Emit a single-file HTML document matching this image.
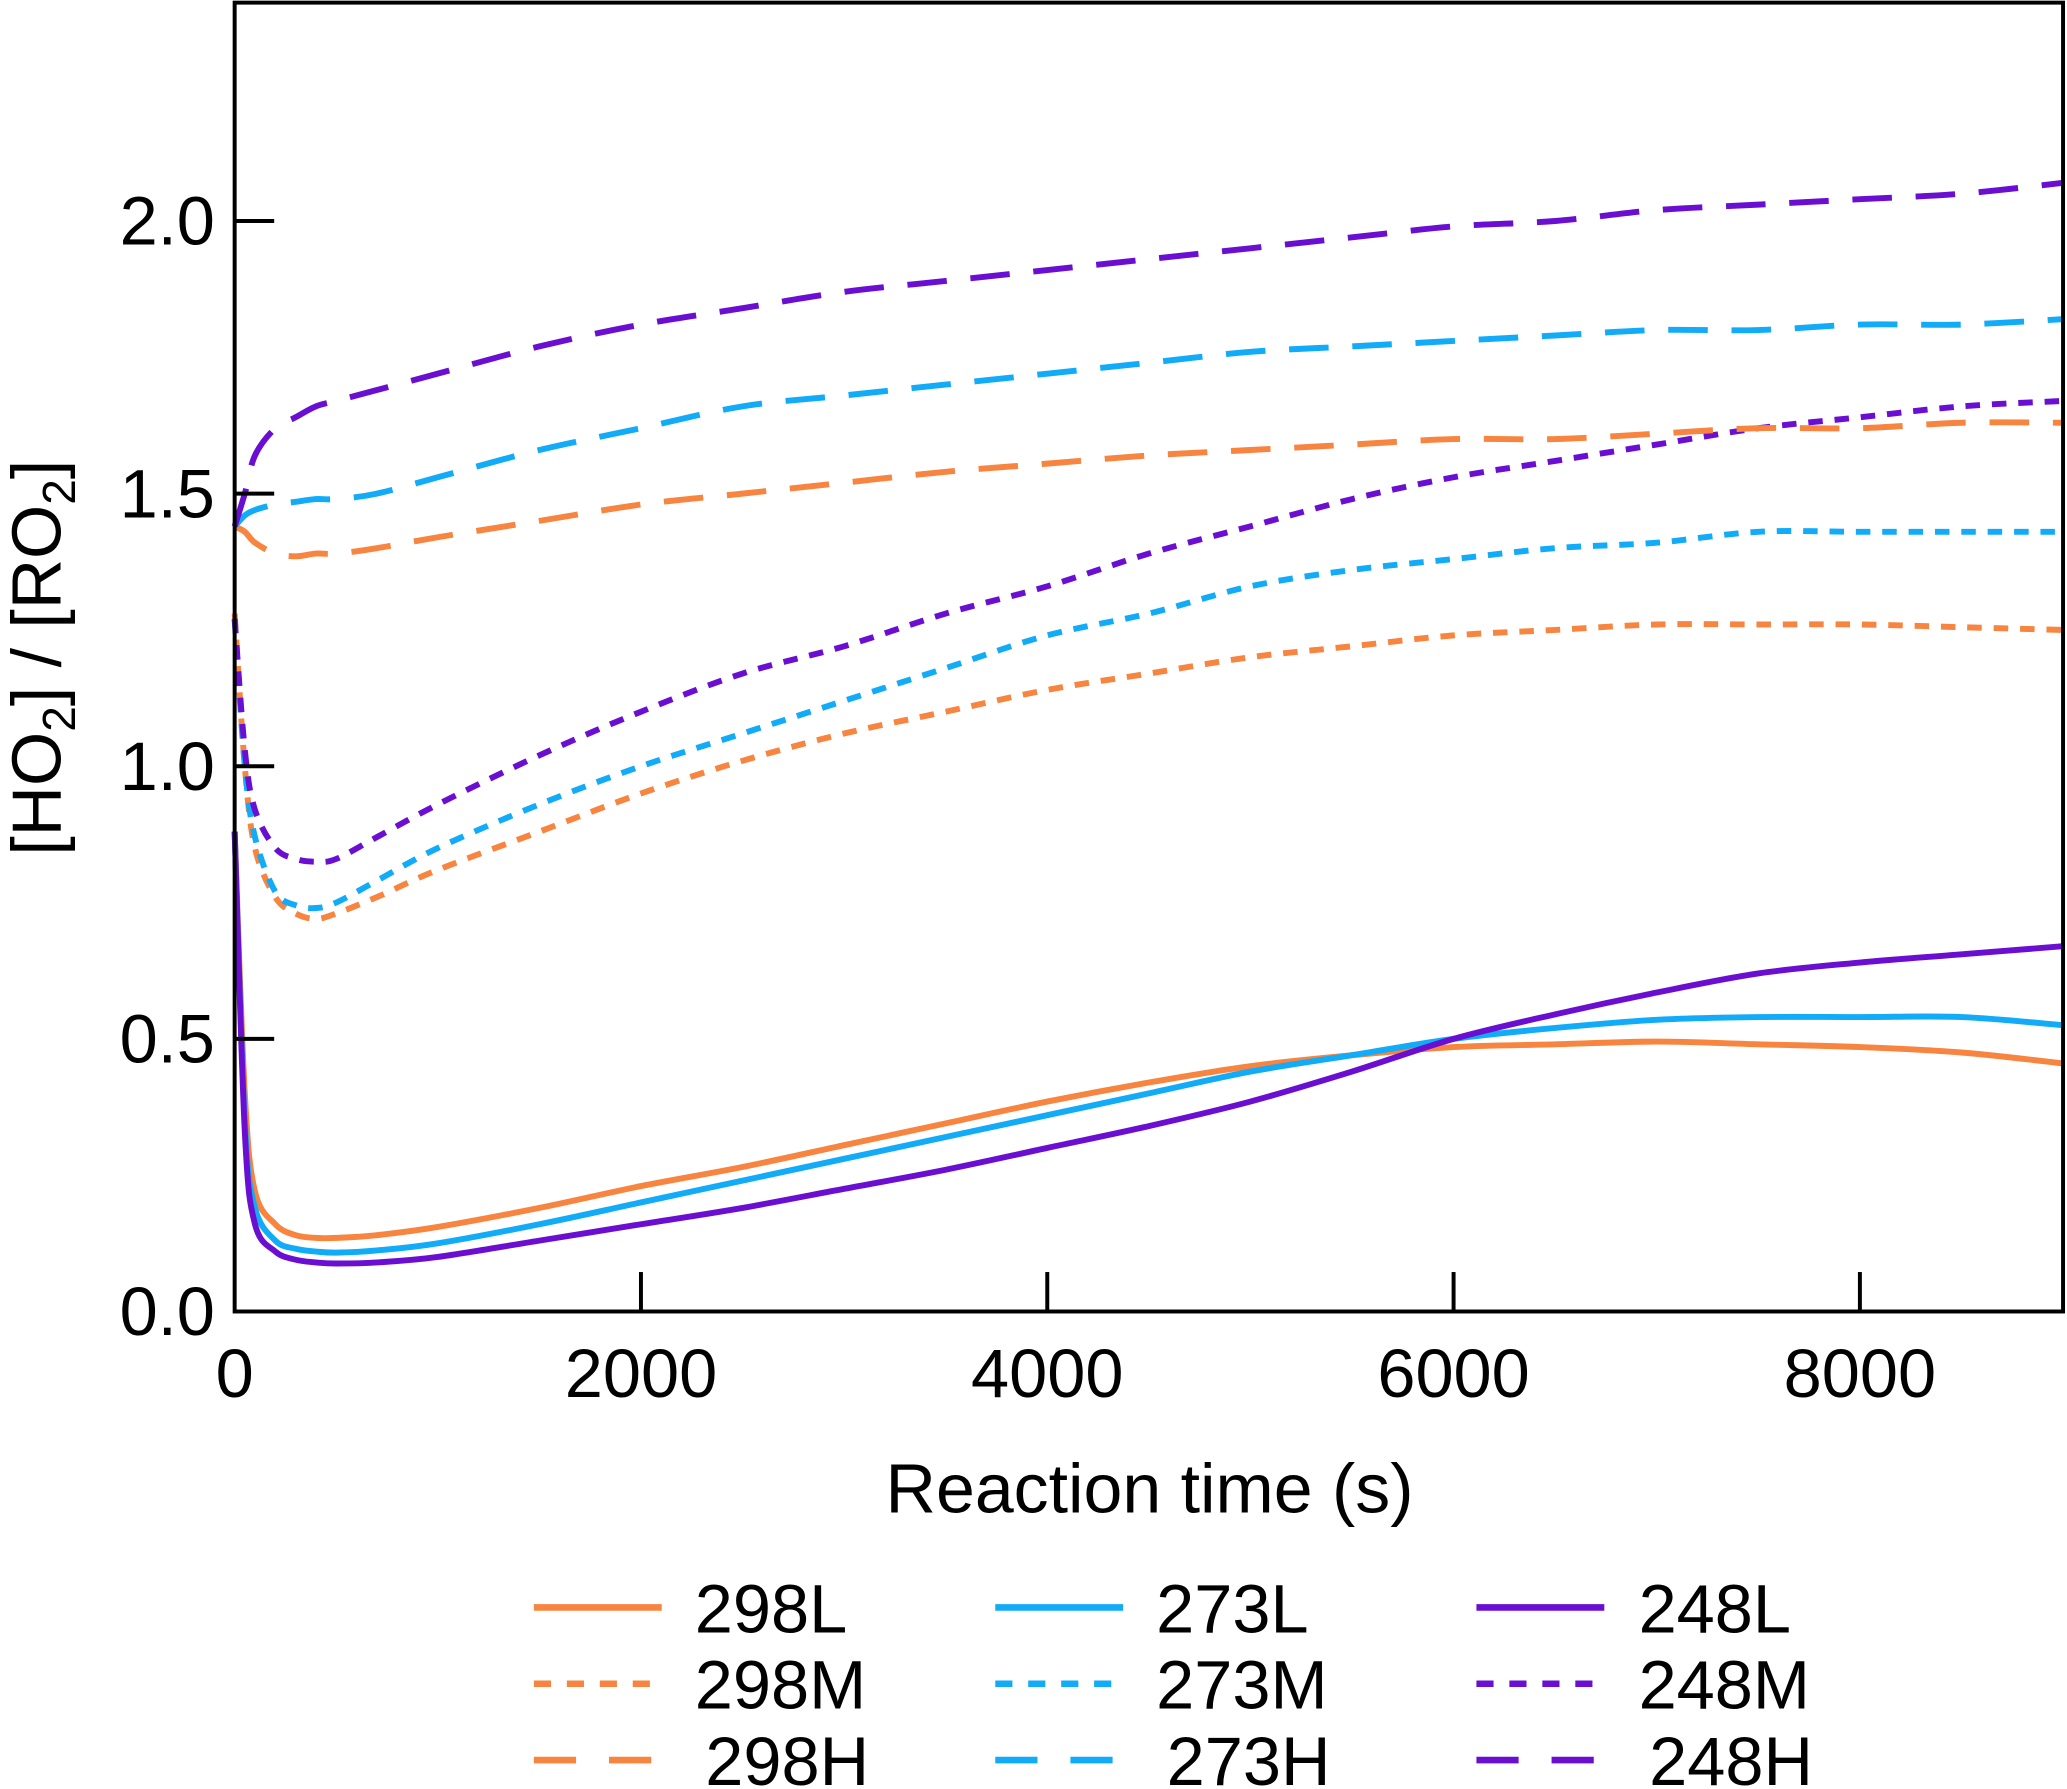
<!DOCTYPE html>
<html><head><meta charset="utf-8"><style>
html,body{margin:0;padding:0;background:#fff}
svg{display:block}
text{font-family:"Liberation Sans",Arial,sans-serif;fill:#000}
</style></head><body>
<svg width="2067" height="1789" viewBox="0 0 1568 1360" preserveAspectRatio="none" xmlns="http://www.w3.org/2000/svg">
<g id="series"></g>
<rect x="178" y="2" width="1387" height="995" fill="none" stroke="#000" stroke-width="3"/>
<g id="axes"></g>
<text x="872" y="1150" font-size="53" text-anchor="middle">Reaction time (s)</text>
<text transform="translate(46,500) rotate(-90)" font-size="53" text-anchor="middle">[HO<tspan font-size="35" dy="11">2</tspan><tspan dy="-11">] / [RO</tspan><tspan font-size="35" dy="11">2</tspan><tspan dy="-11">]</tspan></text>
<g id="legend"></g>
</svg>
<script>
const times=[0,50,100,200,300,400,500,700,1000,1500,2000,2500,3000,3500,4000,4500,5000,5500,6000,6500,7000,7500,8000,8500,9000];
const s298L=[0.88,0.4,0.22,0.16,0.14,0.135,0.135,0.14,0.155,0.19,0.23,0.265,0.305,0.345,0.385,0.42,0.45,0.47,0.485,0.49,0.495,0.49,0.485,0.475,0.455];
const s273L=[0.88,0.35,0.19,0.13,0.115,0.11,0.108,0.112,0.125,0.16,0.2,0.24,0.28,0.32,0.36,0.4,0.44,0.47,0.5,0.52,0.535,0.54,0.54,0.54,0.525];
const s248L=[0.88,0.33,0.16,0.11,0.095,0.09,0.088,0.09,0.1,0.13,0.16,0.19,0.225,0.26,0.3,0.34,0.385,0.44,0.5,0.545,0.585,0.62,0.64,0.655,0.67];
const s298M=[1.28,1.0,0.85,0.76,0.73,0.72,0.73,0.76,0.81,0.88,0.95,1.01,1.06,1.1,1.14,1.17,1.2,1.22,1.24,1.25,1.26,1.26,1.26,1.255,1.25];
const s273M=[1.27,1.0,0.87,0.77,0.745,0.74,0.75,0.79,0.85,0.93,1.0,1.06,1.12,1.18,1.24,1.28,1.33,1.36,1.38,1.4,1.41,1.43,1.43,1.43,1.43];
const s248M=[1.27,1.03,0.92,0.85,0.83,0.825,0.83,0.87,0.93,1.02,1.1,1.17,1.22,1.28,1.33,1.39,1.44,1.49,1.53,1.56,1.59,1.62,1.64,1.66,1.67];
const s298H=[1.44,1.43,1.41,1.39,1.385,1.39,1.39,1.4,1.42,1.45,1.48,1.5,1.52,1.54,1.555,1.57,1.58,1.59,1.6,1.6,1.61,1.62,1.62,1.63,1.63];
const s273H=[1.44,1.46,1.47,1.48,1.485,1.49,1.49,1.5,1.53,1.58,1.62,1.66,1.68,1.7,1.72,1.74,1.76,1.77,1.78,1.79,1.8,1.8,1.81,1.81,1.82];
const s248H=[1.44,1.5,1.57,1.62,1.64,1.66,1.67,1.69,1.72,1.77,1.81,1.84,1.87,1.89,1.91,1.93,1.95,1.97,1.99,2.0,2.02,2.03,2.04,2.05,2.07];
const xTicks=[0,2000,4000,6000,8000];
const yTicks=[0.0,0.5,1.0,1.5,2.0];
const yTickLabels=["0.0","0.5","1.0","1.5","2.0"];
const seriesNames=["298L","298M","298H","273L","273M","273H","248L","248M","248H"];

const NS="http://www.w3.org/2000/svg";
const X0=178,X1=1565,Y0=997,Y1=2;
const xs=t=>X0+(t/9000)*(X1-X0);
const ys=v=>997-v*414.5;
const cols={"298":"#f7843f","273":"#12abf7","248":"#6a0fd2"};
const dashes={L:"none",M:"11 9",H:"30 18"};
const data={"298L":s298L,"298M":s298M,"298H":s298H,"273L":s273L,"273M":s273M,"273H":s273H,"248L":s248L,"248M":s248M,"248H":s248H};
function mk(tag,attrs,parent){const e=document.createElementNS(NS,tag);for(const k in attrs)e.setAttribute(k,attrs[k]);parent.appendChild(e);return e;}
function smooth(pts){let d="M"+pts[0][0]+","+pts[0][1];for(let i=0;i<pts.length-1;i++){const p0=pts[Math.max(0,i-1)],p1=pts[i],p2=pts[i+1],p3=pts[Math.min(pts.length-1,i+2)];const c1=[p1[0]+(p2[0]-p0[0])/6,p1[1]+(p2[1]-p0[1])/6],c2=[p2[0]-(p3[0]-p1[0])/6,p2[1]-(p3[1]-p1[1])/6];d+=" C"+c1[0]+","+c1[1]+" "+c2[0]+","+c2[1]+" "+p2[0]+","+p2[1];}return d;}
const sg=document.getElementById("series");
["M","H","L"].forEach(k=>{["298","273","248"].forEach(t=>{const n=t+k;const pts=times.map((tt,i)=>[xs(tt),ys(data[n][i])]);
const p=mk("path",{d:smooth(pts),fill:"none",stroke:cols[t],"stroke-width":4.5,"stroke-dasharray":dashes[k]},sg);

});});
const ax=document.getElementById("axes");
xTicks.forEach(t=>{const x=xs(t);
if(t>0){const l=mk("line",{x1:x,x2:x,y1:Y0,y2:Y0-30,stroke:"#000","stroke-width":3},ax);}
const tx=mk("text",{x:x,y:1062,"font-size":52,"text-anchor":"middle"},ax);tx.textContent=t;

});
yTicks.forEach((v,i)=>{const y=ys(v);
if(v>0){const l=mk("line",{x1:X0,x2:X0+30,y1:y,y2:y,stroke:"#000","stroke-width":3},ax);}
const tx=mk("text",{x:163,y:y+18,"font-size":52,"text-anchor":"end"},ax);tx.textContent=yTickLabels[i];

});
const lg=document.getElementById("legend");
const colX={"298":[405,527],"273":[755,877],"248":[1120,1243]};
const rowY={L:1222,M:1280,H:1338};
seriesNames.forEach(n=>{const t=n.slice(0,3),k=n[3];const [lx,tx0]=colX[t];const y=rowY[k];
const l=mk("line",{x1:lx,x2:lx+97,y1:y,y2:y,stroke:cols[t],"stroke-width":5,"stroke-dasharray":k==="M"?"13 12":(k==="H"?"32 25":"none")},lg);


const tx=mk("text",{x:tx0+(k==="H"?8:0),y:y+19,"font-size":52},lg);tx.textContent=n;

});
</script>
</body></html>
